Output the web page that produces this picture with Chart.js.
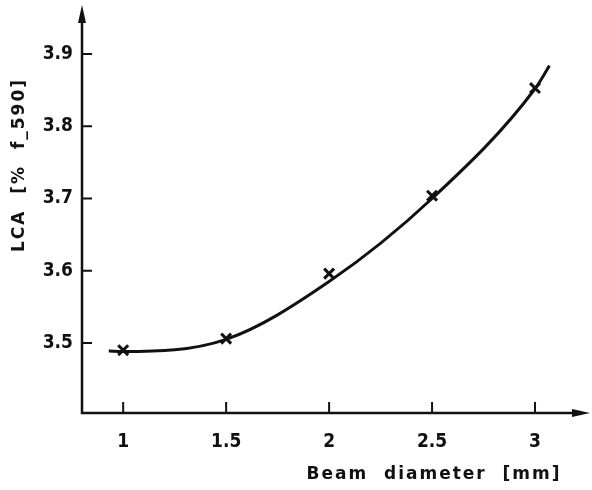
<!DOCTYPE html>
<html>
<head>
<meta charset="utf-8">
<script src="https://cdn.jsdelivr.net/npm/chart.js@4/dist/chart.umd.min.js"></script>
<style>
  html, body { margin: 0; padding: 0; background: #fff; }
  #wrap { width: 592px; height: 490px; }
</style>
</head>
<body>
<div id="wrap"><canvas id="myChart"></canvas></div>
<script>
// measured points (x markers)
var beamDiameter = [1, 1.5, 2, 2.5, 3];
var lca = [3.490, 3.506, 3.596, 3.704, 3.853];

// fitted curve
var curveX = [0.93, 1, 1.5, 2, 2.5, 3, 3.07];
var curveY = [3.489, 3.488, 3.505, 3.585, 3.700, 3.852, 3.884];

var xTicks = [1, 1.5, 2, 2.5, 3];
var xTickLabels = ['1', '1.5', '2', '2.5', '3'];
var yTicks = [3.5, 3.6, 3.7, 3.8, 3.9];
var yTickLabels = ['3.5', '3.6', '3.7', '3.8', '3.9'];

var xTitle = 'Beam  diameter  [mm]';
var yTitle = 'LCA  [%  f_590]';

var ink = '#111';
var fontFam = '"DejaVu Sans Condensed", "DejaVu Sans", sans-serif';

// axes with arrows, inward ticks and the axis titles
var axesPlugin = {
  id: 'axesPlugin',
  afterDraw: function(chart) {
    var ctx = chart.ctx;
    var xs = chart.scales.x, ys = chart.scales.y;
    var a = chart.chartArea;
    ctx.save();
    ctx.strokeStyle = ink;
    ctx.fillStyle = ink;
    ctx.lineWidth = 2.5;
    ctx.beginPath();
    ctx.moveTo(a.left, a.top + 10);
    ctx.lineTo(a.left, a.bottom);
    ctx.lineTo(a.right - 10, a.bottom);
    ctx.stroke();
    // arrow heads
    ctx.beginPath();
    ctx.moveTo(a.left, a.top);
    ctx.lineTo(a.left - 4, a.top + 18);
    ctx.lineTo(a.left + 4, a.top + 18);
    ctx.closePath();
    ctx.fill();
    ctx.beginPath();
    ctx.moveTo(a.right, a.bottom);
    ctx.lineTo(a.right - 18, a.bottom - 4);
    ctx.lineTo(a.right - 18, a.bottom + 4);
    ctx.closePath();
    ctx.fill();
    // ticks pointing inward
    ctx.lineWidth = 2;
    ctx.beginPath();
    yTicks.forEach(function(v) {
      var py = ys.getPixelForValue(v);
      ctx.moveTo(a.left, py);
      ctx.lineTo(a.left + 10, py);
    });
    xTicks.forEach(function(v) {
      var px = xs.getPixelForValue(v);
      ctx.moveTo(px, a.bottom);
      ctx.lineTo(px, a.bottom - 11);
    });
    ctx.stroke();
    // titles
    ctx.font = 'bold 17px "DejaVu Sans", sans-serif';
    ctx.letterSpacing = '2px';
    ctx.textAlign = 'center';
    ctx.textBaseline = 'middle';
    ctx.fillText(xTitle, 434, 475);
    ctx.translate(20, 165);
    ctx.rotate(-Math.PI / 2);
    ctx.fillText(yTitle, 0, 0);
    ctx.restore();
  }
};

window.onload = function() {
  var ctx = document.getElementById('myChart');
  var curve = curveX.map(function(x, i) { return {x: x, y: curveY[i]}; });
  var pts = beamDiameter.map(function(x, i) { return {x: x, y: lca[i]}; });

  new Chart(ctx, {
    type: 'scatter',
    data: {
      datasets: [{
        label: 'fit',
        data: curve,
        showLine: true,
        borderColor: ink,
        borderWidth: 3,
        pointRadius: 0,
        cubicInterpolationMode: 'monotone',
        fill: false
      }, {
        label: 'LCA',
        data: pts,
        pointStyle: 'crossRot',
        pointRadius: 7,
        pointBorderWidth: 3,
        borderColor: ink,
        backgroundColor: ink
      }]
    },
    options: {
      responsive: true,
      maintainAspectRatio: false,
      animation: false,
      layout: { autoPadding: false, padding: { left: 0, right: 2, top: 5, bottom: 0 } },
      plugins: {
        legend: { display: false },
        tooltip: { enabled: false }
      },
      scales: {
        x: {
          type: 'linear',
          min: 0.8,
          max: 3.267,
          grid: { display: false },
          border: { display: false },
          afterBuildTicks: function(s) {
            s.ticks = xTicks.map(function(v) { return {value: v}; });
          },
          afterFit: function(s) {
            s.height = 77;
            s.paddingLeft = 0; s.paddingRight = 0;
            s.paddingTop = 0; s.paddingBottom = 0;
          },
          ticks: {
            color: ink,
            padding: 10,
            font: { family: fontFam, size: 19, weight: 'bold' },
            callback: function(v) {
              var i = xTicks.indexOf(v);
              return i >= 0 ? xTickLabels[i] : '';
            }
          }
        },
        y: {
          type: 'linear',
          min: 3.403,
          max: 3.968,
          grid: { display: false, drawTicks: false },
          border: { display: false },
          afterBuildTicks: function(s) {
            s.ticks = yTicks.map(function(v) { return {value: v}; });
          },
          afterFit: function(s) {
            s.width = 82;
            s.paddingLeft = 0; s.paddingRight = 0;
            s.paddingTop = 0; s.paddingBottom = 0;
          },
          ticks: {
            color: ink,
            padding: 9,
            font: { family: fontFam, size: 19, weight: 'bold' },
            callback: function(v) {
              var i = yTicks.indexOf(v);
              return i >= 0 ? yTickLabels[i] : '';
            }
          }
        }
      }
    },
    plugins: [axesPlugin]
  });
};
</script>
</body>
</html>
